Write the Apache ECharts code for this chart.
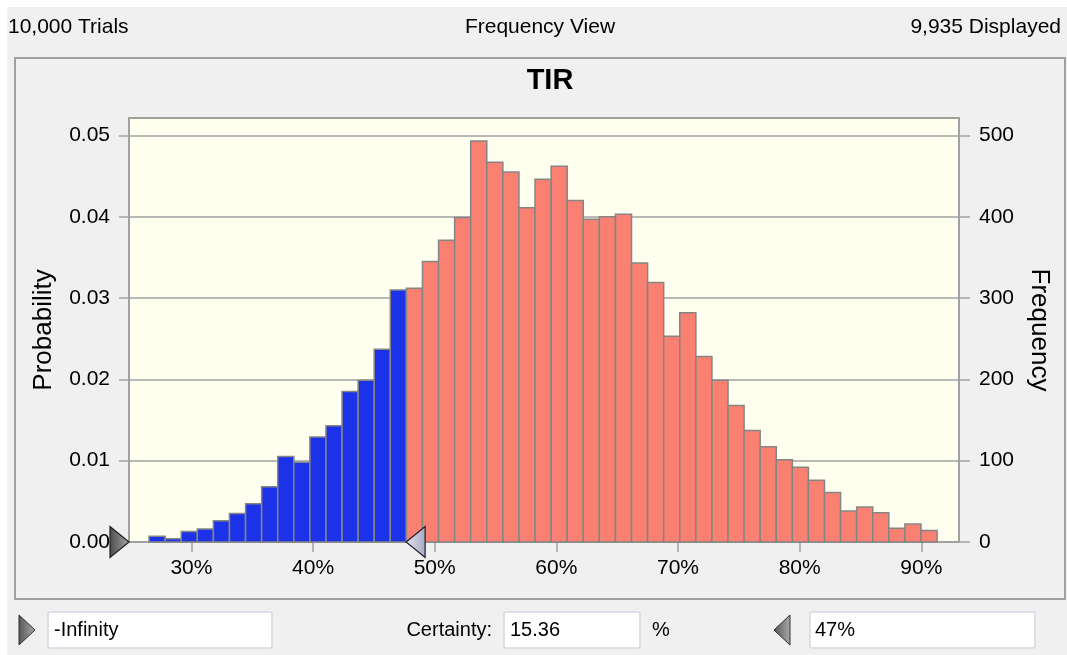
<!DOCTYPE html>
<html>
<head>
<meta charset="utf-8">
<title>TIR</title>
<script src="https://cdn.jsdelivr.net/npm/echarts@6/dist/echarts.min.js"></script>
<style>
  html, body { margin: 0; padding: 0; background: #fff; }
  #chart { width: 1067px; height: 655px; }
</style>
</head>
<body>
<div id="chart"></div>
<script>
// histogram of TIR, 10,000 trials
const binStart = 26.52;
const binWidth = 1.322;
const cutoff = 47.65;
const frequencies = [
  7, 4, 13, 16, 26, 35, 47, 68, 105, 98, 129, 143, 185, 199, 237, 310,
  312, 345, 371, 399, 493, 467, 455, 411, 446, 462, 420, 397, 400, 403,
  343, 319, 253, 282, 228, 199, 168, 137, 117, 101, 92, 76, 61, 38, 43,
  36, 17, 22, 14
];
const xTicks = [30, 40, 50, 60, 70, 80, 90];
const probTicks = [0, 0.01, 0.02, 0.03, 0.04, 0.05];
const freqTicks = [0, 100, 200, 300, 400, 500];
const xMin = 24.87, xMax = 93.1;

const FONT = '"Liberation Sans", Arial, sans-serif';
const bins = frequencies.map((n, i) => {
  const lo = binStart + i * binWidth;
  return [lo, lo + binWidth, n];
});
const markers = [[xMin, 0, 1], [cutoff, 0, -1]];

function renderBar(params, api) {
  const lo = api.value(0), hi = api.value(1), n = api.value(2);
  const p0 = api.coord([lo, n]);
  const p1 = api.coord([hi, 0]);
  return {
    type: 'rect',
    shape: { x: p0[0], y: p0[1], width: p1[0] - p0[0], height: p1[1] - p0[1] },
    style: {
      fill: lo < cutoff ? '#1c32e8' : '#fa8072',
      stroke: '#858585',
      lineWidth: 1.5
    }
  };
}

function renderMarker(params, api) {
  const p = api.coord([api.value(0), api.value(1)]);
  const dir = api.value(2);
  const w = 19, h = 15.5;
  const dark = dir > 0;
  return {
    type: 'polygon',
    shape: { points: [[p[0], p[1]], [p[0] - dir * w, p[1] - h], [p[0] - dir * w, p[1] + h]] },
    style: {
      fill: new echarts.graphic.LinearGradient(0, 0, 1, 0, dark
        ? [{ offset: 0, color: '#4a4a4a' }, { offset: 1, color: '#a8a8a8' }]
        : [{ offset: 0, color: '#e4e4ee' }, { offset: 1, color: '#a8a8c4' }]),
      stroke: '#202020',
      lineWidth: 1.2
    }
  };
}

function box(x, y, w, h) {
  return {
    type: 'rect', shape: { x: x, y: y, width: w, height: h, r: 2 },
    style: { fill: '#fff', stroke: '#d4d8e0', lineWidth: 1.5 }
  };
}
function text(x, y, s, align, size) {
  return {
    type: 'text', x: x, y: y,
    style: { text: s, fill: '#000', font: (size || 20) + 'px ' + FONT, textAlign: align || 'left', textVerticalAlign: 'middle' }
  };
}
function tri(x, y, dir) {
  const w = 16, h = 15;
  return {
    type: 'polygon',
    shape: { points: dir > 0 ? [[x, y - h], [x + w, y], [x, y + h]] : [[x + w, y - h], [x, y], [x + w, y + h]] },
    style: {
      fill: new echarts.graphic.LinearGradient(0, 0, 1, 0, [
        { offset: 0, color: '#555' }, { offset: 1, color: '#aaa' }]),
      stroke: '#303030', lineWidth: 1
    }
  };
}

const chart = echarts.init(document.getElementById('chart'));
chart.setOption({
  backgroundColor: '#fff',
  animation: false,
  graphic: [
    { type: 'rect', z: -10, shape: { x: 7, y: 7, width: 1060, height: 648 }, style: { fill: '#f0f0f0' } },
    { type: 'rect', z: -9, shape: { x: 15, y: 58, width: 1050, height: 541 }, style: { fill: 'none', stroke: '#a0a0a0', lineWidth: 2 } },
    text(8, 27, '10,000 Trials', 'left', 21),
    text(540, 27, 'Frequency View', 'center', 21),
    text(1061, 27, '9,935 Displayed', 'right', 21),
    tri(19, 630, 1),
    box(48, 612, 224, 36),
    text(54, 630, '-Infinity'),
    text(492, 630, 'Certainty:', 'right'),
    box(504, 612, 136, 36),
    text(510, 630, '15.36'),
    text(652, 630, '%'),
    tri(774, 630, -1),
    box(810, 612, 225, 36),
    text(815, 630, '47%')
  ],
  title: {
    text: 'TIR',
    left: 545, top: 61, textAlign: 'center',
    textStyle: { fontFamily: FONT, fontSize: 29, fontWeight: 'bold', color: '#000' }
  },
  grid: {
    left: 129, top: 118, width: 830, height: 424,
    show: true, backgroundColor: '#fffff0', borderColor: '#a0a0a0', borderWidth: 2
  },
  xAxis: {
    type: 'value', min: xMin, max: xMax,
    axisLine: { show: false },
    splitLine: { show: false },
    axisTick: { customValues: xTicks, length: 10, lineStyle: { color: '#a0a0a0', width: 1.5 } },
    axisLabel: {
      customValues: xTicks, formatter: '{value}%', margin: 16,
      fontFamily: FONT, fontSize: 21, color: '#000'
    }
  },
  yAxis: [
    {
      type: 'value', min: 0, max: 0.05214, interval: 0.01,
      name: 'Probability', nameLocation: 'middle', nameRotate: 90, nameGap: 72,
      nameTextStyle: { fontFamily: FONT, fontSize: 26, color: '#000' },
      axisLine: { show: false },
      splitLine: { lineStyle: { color: '#a0a0a0', width: 1.5 } },
      axisTick: { show: true, customValues: probTicks, length: 10, lineStyle: { color: '#a0a0a0', width: 1.5 } },
      axisLabel: {
        customValues: probTicks, margin: 19, formatter: v => v.toFixed(2),
        fontFamily: FONT, fontSize: 21, color: '#000'
      }
    },
    {
      type: 'value', min: 0, max: 521.4, interval: 100, position: 'right',
      name: 'Frequency', nameLocation: 'middle', nameRotate: -90, nameGap: 67,
      nameTextStyle: { fontFamily: FONT, fontSize: 26, color: '#000' },
      axisLine: { show: false },
      splitLine: { show: false },
      axisTick: { show: true, customValues: freqTicks, length: 11, lineStyle: { color: '#a0a0a0', width: 1.5 } },
      axisLabel: {
        customValues: freqTicks, margin: 20,
        fontFamily: FONT, fontSize: 21, color: '#000'
      }
    }
  ],
  series: [
    {
      type: 'custom', name: 'TIR', yAxisIndex: 1,
      renderItem: renderBar,
      encode: { x: [0, 1], y: 2 },
      data: bins
    },
    {
      type: 'custom', name: 'markers', yAxisIndex: 1, clip: false, z: 5,
      renderItem: renderMarker,
      encode: { x: 0, y: 1 },
      data: markers
    }
  ]
});
</script>
</body>
</html>
